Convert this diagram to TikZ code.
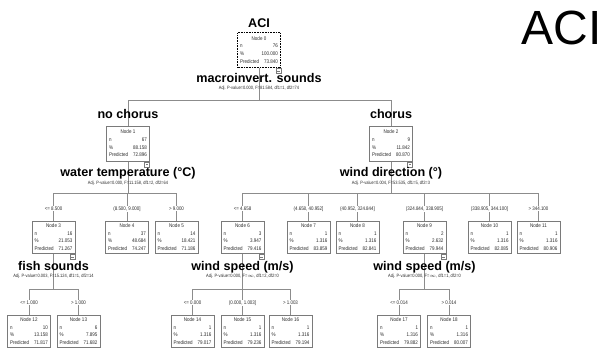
\documentclass[tikz,border=0pt]{standalone}
\usepackage{fontspec}
\setmainfont{Liberation Sans}
\newfontfamily\narrowfont[FakeStretch=0.85]{Liberation Sans}
\usetikzlibrary{positioning, backgrounds}
\definecolor{LineGray}{HTML}{8C8C8C}
\definecolor{BoxGray}{HTML}{7A7A7A}
\definecolor{Ink}{HTML}{2B2B2B}

% content of one tree node
\newcommand{\nodetab}[4]{%
  \begin{tabular*}{38pt}{@{}l@{\extracolsep{\fill}}r@{}}
    \multicolumn{2}{c}{Node #1}\\
    n & #2\\
    \% & #3\\
    Predicted & #4
  \end{tabular*}}

\begin{document}
\begin{tikzpicture}[
    x=1pt, y=-1pt,
    every node/.style={inner sep=0pt},
    tnode/.style={draw=BoxGray, line width=0.7pt, fill=white, minimum width=43pt,
        minimum height=32pt, anchor=north, inner sep=1pt, text=Ink,
        font=\narrowfont\fontsize{5.3}{7.6}\selectfont},
    topnode/.style={tnode, minimum height=35pt},
    rootnode/.style={topnode, draw=black, line width=1.4pt, dash pattern=on 1pt off 0.6pt},
    toggle/.style={draw=BoxGray, line width=0.5pt, fill=white, minimum size=5pt,
        inner sep=0pt, anchor=north east,
        path picture={\draw[BoxGray, line width=0.5pt]
            ([xshift=1.2pt]path picture bounding box.west) --
            ([xshift=-1.2pt]path picture bounding box.east);}},
    varlab/.style={font=\fontsize{12.6}{14}\selectfont\bfseries, anchor=base},
    adjlab/.style={font=\narrowfont\fontsize{4.7}{5}\selectfont, anchor=base, text=Ink},
    cutlab/.style={font=\narrowfont\fontsize{5.2}{6}\selectfont, anchor=base, fill=white,
        inner sep=0.6pt, text=Ink},
    edge/.style={draw=LineGray, line width=0.7pt},
]
\useasboundingbox (0,0) rectangle (602,349);

% === Titles ===
\node[varlab] (title) at (259,27) {ACI};
\node[font=\fontsize{48}{56}\selectfont, anchor=base east] (bigaci) at (602,44) {ACI};

% =============================================
% ROOT
% =============================================
\node[rootnode] (n0) at (259,32) {\nodetab{0}{76}{100.000}{73.840}};
\node[toggle] (t0) at (n0.south east) {};
\node[varlab] (v0) at (259,82) {macroinvert. sounds};
\node[adjlab] (a0) at (259,89.5) {Adj. P-value=0.000, F=81.584, df1=1, df2=74};
\coordinate (s0) at (259,100);

% =============================================
% LEVEL 1
% =============================================
\node[varlab] (c1) at (128,118) {no chorus};
\node[topnode] (n1) at (128,126) {\nodetab{1}{67}{88.158}{72.896}};
\node[toggle] (t1) at (n1.south east) {};
\node[varlab] (v1) at (128,176) {water temperature (°C)};
\node[adjlab] (a1) at (128,184) {Adj. P-value=0.000, F=11.158, df1=2, df2=64};
\coordinate (s1) at (128,193);

\node[varlab] (c2) at (391,118) {chorus};
\node[topnode] (n2) at (391,126) {\nodetab{2}{9}{11.842}{80.870}};
\node[toggle] (t2) at (n2.south east) {};
\node[varlab] (v2) at (391,176) {wind direction (°)};
\node[adjlab] (a2) at (391,184) {Adj. P-value=0.004, F=53.535, df1=5, df2=3};
\coordinate (s2) at (391,193);

% =============================================
% LEVEL 2
% =============================================
% water temperature
\node[tnode] (n3) at (53.5,221) {\nodetab{3}{16}{21.053}{71.267}};
\node[tnode] (n4) at (127,221) {\nodetab{4}{37}{48.684}{74.247}};
\node[tnode] (n5) at (176.5,221) {\nodetab{5}{14}{18.421}{71.186}};
\node[toggle] (t3) at (n3.south east) {};

% wind direction
\node[tnode] (n6) at (242.5,221) {\nodetab{6}{3}{3.947}{79.416}};
\node[tnode] (n7) at (308.5,221) {\nodetab{7}{1}{1.316}{83.859}};
\node[tnode] (n8) at (357.5,221) {\nodetab{8}{1}{1.316}{82.841}};
\node[tnode] (n9) at (424.5,221) {\nodetab{9}{2}{2.632}{79.944}};
\node[tnode] (n10) at (489.5,221) {\nodetab{10}{1}{1.316}{82.085}};
\node[tnode] (n11) at (538.5,221) {\nodetab{11}{1}{1.316}{80.906}};
\node[toggle] (t6) at (n6.south east) {};
\node[toggle] (t9) at (n9.south east) {};

\node[varlab] (v3) at (53.5,270) {fish sounds};
\node[adjlab] (a3) at (53.5,277) {Adj. P-value=0.003, F=15.124, df1=1, df2=14};
\coordinate (s3) at (53.5,289);

\node[varlab] (v6) at (242.5,270) {wind speed (m/s)};
\node[adjlab] (a6) at (242.5,277) {Adj. P-value=0.000, F=$\infty$, df1=2, df2=0};
\coordinate (s6) at (242.5,289);

\node[varlab] (v9) at (424.5,270) {wind speed (m/s)};
\node[adjlab] (a9) at (424.5,277) {Adj. P-value=0.000, F=$\infty$, df1=1, df2=0};
\coordinate (s9) at (424.5,289);

% =============================================
% LEVEL 3
% =============================================
\node[tnode] (n12) at (29,315) {\nodetab{12}{10}{13.158}{71.817}};
\node[tnode] (n13) at (78.5,315) {\nodetab{13}{6}{7.895}{71.682}};
\node[tnode] (n14) at (192.5,315) {\nodetab{14}{1}{1.316}{79.017}};
\node[tnode] (n15) at (242.5,315) {\nodetab{15}{1}{1.316}{79.236}};
\node[tnode] (n16) at (290.5,315) {\nodetab{16}{1}{1.316}{79.194}};
\node[tnode] (n17) at (399,315) {\nodetab{17}{1}{1.316}{79.882}};
\node[tnode] (n18) at (449,315) {\nodetab{18}{1}{1.316}{80.007}};

% =============================================
% EDGES (behind the labels)
% =============================================
\begin{scope}[on background layer]
\draw[edge] (n0.south) -- (s0);
\draw[edge] (s0) -| (n1.north);
\draw[edge] (s0) -| (n2.north);

\draw[edge] (n1.south) -- (s1);
\draw[edge] (s1) -| (n3.north);
\draw[edge] (s1) -| (n4.north);
\draw[edge] (s1) -| (n5.north);

\draw[edge] (n2.south) -- (s2);
\draw[edge] (s2) -| (n6.north);
\draw[edge] (s2) -| (n7.north);
\draw[edge] (s2) -| (n8.north);
\draw[edge] (s2) -| (n9.north);
\draw[edge] (s2) -| (n10.north);
\draw[edge] (s2) -| (n11.north);

\draw[edge] (n3.south) -- (s3);
\draw[edge] (s3) -| (n12.north);
\draw[edge] (s3) -| (n13.north);

\draw[edge] (n6.south) -- (s6);
\draw[edge] (s6) -| (n14.north);
\draw[edge] (s6) -| (n15.north);
\draw[edge] (s6) -| (n16.north);

\draw[edge] (n9.south) -- (s9);
\draw[edge] (s9) -| (n17.north);
\draw[edge] (s9) -| (n18.north);
\end{scope}

% split values
\node[cutlab] (e3) at (53.5,210) {<= 8.500};
\node[cutlab] (e4) at (127,210) {(8.500, 9.000]};
\node[cutlab] (e5) at (176.5,210) {> 9.000};
\node[cutlab] (e6) at (242.5,210) {<= 4.658};
\node[cutlab] (e7) at (308.5,210) {(4.658, 40.952]};
\node[cutlab] (e8) at (357.5,210) {(40.952, 324.844]};
\node[cutlab] (e9) at (424.5,210) {(324.844, 338.905]};
\node[cutlab] (e10) at (489.5,210) {(338.905, 344.100]};
\node[cutlab] (e11) at (538.5,210) {> 344.100};

\node[cutlab] (e12) at (29,304) {<= 1.000};
\node[cutlab] (e13) at (78.5,304) {> 1.000};
\node[cutlab] (e14) at (192.5,304) {<= 0.000};
\node[cutlab] (e15) at (242.5,304) {(0.000, 1.003]};
\node[cutlab] (e16) at (290.5,304) {> 1.003};
\node[cutlab] (e17) at (399,304) {<= 0.014};
\node[cutlab] (e18) at (449,304) {> 0.014};

\end{tikzpicture}
\end{document}
